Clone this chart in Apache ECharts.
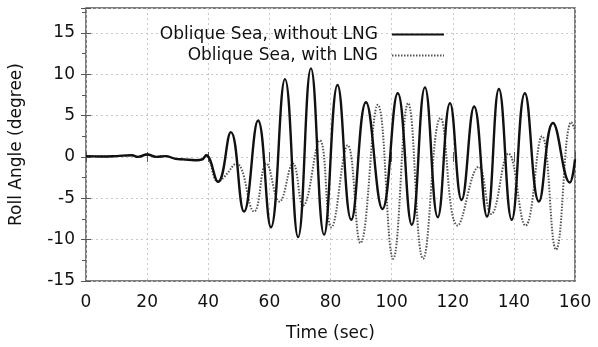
<!DOCTYPE html>
<html>
<head>
<meta charset="utf-8">
<script src="https://cdn.jsdelivr.net/npm/echarts@6/dist/echarts.min.js"></script>
<style>
html,body{margin:0;padding:0;background:#fff;}
#c{width:598px;height:347px;}
</style>
</head>
<body>
<div id="c"></div>
<script>
var nameWithout = 'Oblique Sea, without LNG';
var nameWith = 'Oblique Sea, with LNG';
var xTitle = 'Time (sec)';
var yTitle = 'Roll Angle (degree)';

var withoutT = [0, 5, 10, 15, 17, 20, 23, 26, 29, 32, 36, 38, 39.3, 43.2, 47.4, 51.7, 56.3, 60.5, 65.1, 69.4, 73.6, 77.9, 82.3, 86.8, 91.6, 97.0, 102.0, 106.6, 110.9, 115.1, 119.1, 122.9, 127.0, 131.2, 135.1, 139.3, 143.6, 148.2, 152.8, 158.3, 160];
var withoutV = [0.1, 0.05, 0.1, 0.2, 0.0, 0.3, 0.0, 0.1, -0.2, -0.3, -0.4, -0.3, 0.2, -3.0, 3.0, -6.6, 4.4, -8.5, 9.4, -9.7, 10.7, -9.4, 8.7, -7.6, 6.6, -6.3, 7.7, -8.2, 8.4, -7.3, 6.5, -5.2, 6.1, -7.2, 8.2, -7.6, 7.7, -5.4, 4.1, -3.1, -0.3];

var withT = [0, 5, 10, 15, 17, 20, 23, 26, 29, 32, 36, 38, 39.3, 43.2, 45.5, 49.2, 55.0, 59.0, 63.3, 67.7, 71.0, 76.5, 80.3, 85.6, 89.8, 95.5, 100.5, 105.4, 110.3, 116.0, 121.6, 128.5, 132.6, 138.2, 143.8, 149.2, 153.8, 158.8, 160];
var withV = [0.1, 0.05, 0.1, 0.2, 0.0, 0.3, 0.0, 0.1, -0.2, -0.3, -0.4, -0.3, 0.2, -3.0, -2.3, -0.8, -6.6, -0.8, -5.4, -0.8, -5.9, 2.0, -8.5, 1.4, -10.4, 6.3, -12.3, 6.5, -12.3, 4.7, -8.3, -1.2, -6.9, 0.4, -8.3, 2.5, -11.2, 4.2, 3.3];

function pairs(t, v) { return t.map(function (x, i) { return [x, v[i]]; }); }

var FONT = 'DejaVu Sans';
var chart = echarts.init(document.getElementById('c'));
var grid = { left: 86, right: 23, top: 8, bottom: 65, show: true, borderColor: '#555', borderWidth: 1.5, backgroundColor: 'transparent' };
var dashGrid = { show: true, lineStyle: { color: '#c8c8c8', type: [2, 3], width: 1 } };
var legendBase = { right: 153, align: 'right', itemWidth: 52, itemHeight: 14, padding: 0,
  itemStyle: { opacity: 0 },
  textStyle: { fontFamily: FONT, fontSize: 17, color: '#111', padding: [0, 9, 0, 0] } };

chart.setOption({
  animation: false,
  backgroundColor: '#fff',
  grid: grid,
  legend: [
    Object.assign({ data: [nameWithout], top: 26 }, legendBase),
    Object.assign({ data: [nameWith], top: 47 }, legendBase)
  ],
  xAxis: [
    { type: 'value', min: 0, max: 160, interval: 20, position: 'bottom',
      name: xTitle, nameLocation: 'middle', nameGap: 44,
      nameTextStyle: { fontFamily: FONT, fontSize: 17, color: '#111' },
      axisLine: { show: false }, axisTick: { show: true, inside: true, length: 5, lineStyle: { color: '#555' } },
      axisLabel: { fontFamily: FONT, fontSize: 17, color: '#111', margin: 13 },
      splitLine: dashGrid },
    { type: 'value', min: 0, max: 160, interval: 20, position: 'top',
      axisLine: { show: false }, axisTick: { show: true, inside: true, length: 5, lineStyle: { color: '#555' } },
      axisLabel: { show: false }, splitLine: { show: false } }
  ],
  yAxis: [
    { type: 'value', min: -15, max: 18, interval: 5, position: 'left',
      name: yTitle, nameLocation: 'middle', nameGap: 61,
      nameTextStyle: { fontFamily: FONT, fontSize: 17, color: '#111' },
      axisLine: { show: false }, axisTick: { show: true, inside: true, length: 5, lineStyle: { color: '#555' } },
      axisLabel: { fontFamily: FONT, fontSize: 17, color: '#111', margin: 11,
        formatter: function (v) { return v % 5 === 0 ? String(v) : ''; } },
      splitLine: dashGrid },
    { type: 'value', min: -15, max: 18, interval: 5, position: 'right',
      axisLine: { show: false }, axisTick: { show: true, inside: true, length: 5, lineStyle: { color: '#555' } },
      minorTick: { show: true, splitNumber: 2, length: 4, lineStyle: { color: '#555' } },
      axisLabel: { show: false }, splitLine: { show: false } }
  ],
  series: [
    { name: nameWithout, type: 'line', xAxisIndex: 0, yAxisIndex: 0, data: pairs(withoutT, withoutV),
      smooth: 0.45, symbol: 'none', z: 3,
      lineStyle: { color: '#111', width: 2.4, type: 'solid' }, itemStyle: { color: '#111' } },
    { name: nameWith, type: 'line', xAxisIndex: 0, yAxisIndex: 0, data: pairs(withT, withV),
      smooth: 0.45, symbol: 'none', z: 2,
      lineStyle: { color: '#555', width: 2, type: [1.5, 1.5] }, itemStyle: { color: '#555' } }
  ]
});
</script>
</body>
</html>
